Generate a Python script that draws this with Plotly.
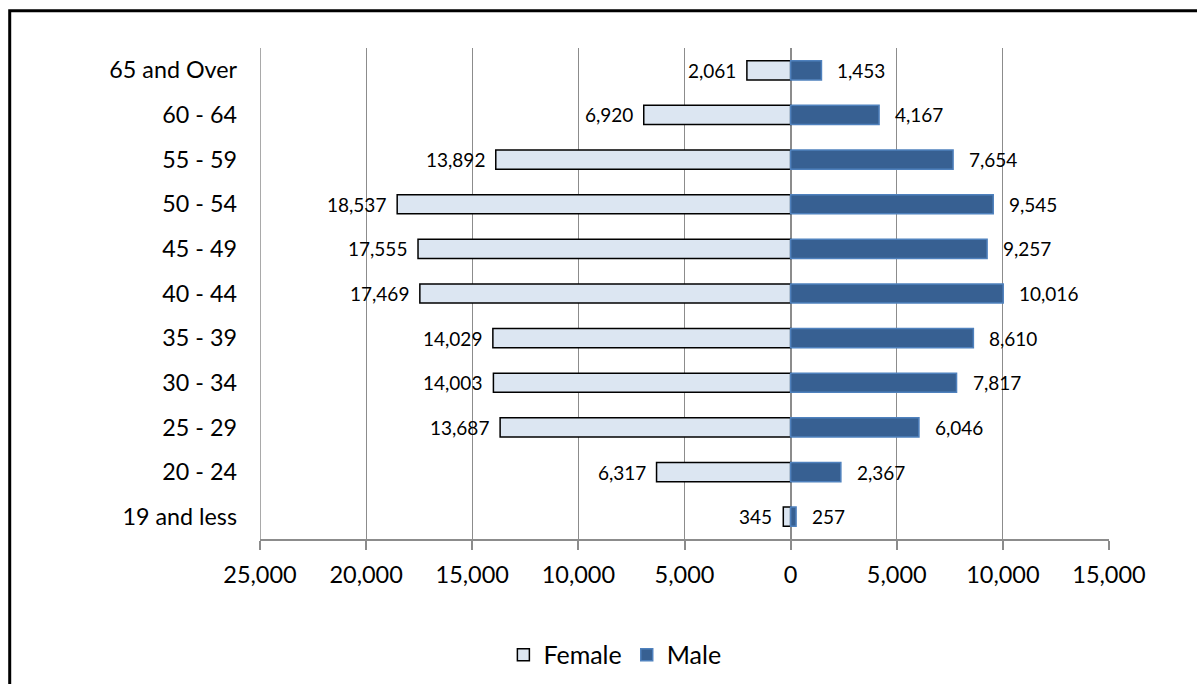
import plotly.graph_objects as go

age_groups = ["19 and less", "20 - 24", "25 - 29", "30 - 34", "35 - 39", "40 - 44",
              "45 - 49", "50 - 54", "55 - 59", "60 - 64", "65 and Over"]
female = [345, 6317, 13687, 14003, 14029, 17469, 17555, 18537, 13892, 6920, 2061]
male = [257, 2367, 6046, 7817, 8610, 10016, 9257, 9545, 7654, 4167, 1453]

tick_vals = [-25000, -20000, -15000, -10000, -5000, 0, 5000, 10000, 15000]
tick_text = ["25,000", "20,000", "15,000", "10,000", "5,000", "0", "5,000", "10,000", "15,000"]

FONT = "Lato"
GRID = "#8c8c8c"
fig = go.Figure()
fig.add_trace(go.Bar(
    y=age_groups, x=[-v for v in female], orientation="h", name="Female",
    marker=dict(color="#dce6f2", line=dict(color="#000000", width=1.5)),
    width=0.43, hoverinfo="skip"))
fig.add_trace(go.Bar(
    y=age_groups, x=male, orientation="h", name="Male",
    marker=dict(color="#376092", line=dict(color="#4f81bd", width=1.5)),
    width=0.43, hoverinfo="skip"))

annotations = []
for cat, v in zip(age_groups, female):
    annotations.append(dict(x=-v, y=cat, xref="x", yref="y", text=f"{v:,}",
                            showarrow=False, xanchor="right", xshift=-9,
                            font=dict(family=FONT, size=19, color="#000")))
for cat, v in zip(age_groups, male):
    annotations.append(dict(x=v, y=cat, xref="x", yref="y", text=f"{v:,}",
                            showarrow=False, xanchor="left", xshift=14,
                            font=dict(family=FONT, size=19, color="#000")))

fig.update_layout(
    width=1197, height=684,
    margin=dict(l=260, r=88, t=48, b=145, autoexpand=False),
    paper_bgcolor="white", plot_bgcolor="white",
    barmode="overlay", bargap=0.57,
    font=dict(family=FONT, size=23, color="#000"),
    xaxis=dict(range=[-25000, 15000], tickvals=tick_vals, ticktext=tick_text,
               showgrid=True, gridcolor=GRID, gridwidth=1,
               zeroline=True, zerolinecolor=GRID, zerolinewidth=1.5,
               showline=True, linecolor=GRID, linewidth=1.5,
               ticks="outside", ticklen=9, tickcolor=GRID, tickwidth=1.5,
               ticklabelstandoff=5, tickfont=dict(size=23.5), fixedrange=True,
               automargin=False),
    yaxis=dict(categoryorder="array", categoryarray=age_groups,
               showgrid=False, zeroline=False, showline=False, ticks="",
               ticklabelstandoff=22, tickfont=dict(size=23.3), fixedrange=True,
               automargin=False),
    legend=dict(orientation="h", x=0.418, xanchor="center", y=-0.236, yanchor="middle",
                font=dict(size=25), itemwidth=30, traceorder="normal"),
    annotations=annotations,
    shapes=[
        dict(type="line", xref="x", yref="paper", x0=tick_vals[0], x1=tick_vals[0],
             y0=0, y1=1, line=dict(color=GRID, width=1.5), layer="below"),
        dict(type="rect", xref="paper", yref="paper",
             x0=-0.2948, x1=1.3, y0=-0.5, y1=1.076,
             line=dict(color="black", width=3), fillcolor="rgba(0,0,0,0)",
             layer="above"),
    ],
    showlegend=True,
)

fig.write_html("out.html")
